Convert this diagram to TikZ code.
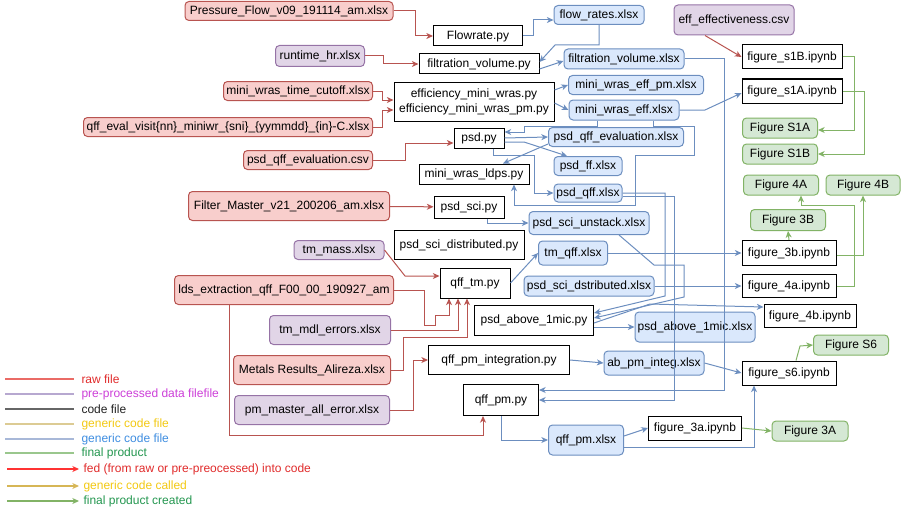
\documentclass[tikz,border=0pt]{standalone}
\usepackage{fontspec}
\setmainfont{Liberation Sans}
\usetikzlibrary{arrows.meta}

\definecolor{rawfill}{HTML}{F8CECC}
\definecolor{rawline}{HTML}{B85450}
\definecolor{prefill}{HTML}{E1D5E7}
\definecolor{preline}{HTML}{9673A6}
\definecolor{genfill}{HTML}{DAE8FC}
\definecolor{genline}{HTML}{6C8EBF}
\definecolor{finfill}{HTML}{D5E8D4}
\definecolor{finline}{HTML}{82B366}
\definecolor{legraw}{HTML}{EA6B66}
\definecolor{legpre}{HTML}{B7A8D0}
\definecolor{legcode}{HTML}{666666}
\definecolor{legtan}{HTML}{DCCB94}
\definecolor{legblue}{HTML}{A8B8D8}
\definecolor{legfin}{HTML}{9AC78D}
\definecolor{arrred}{HTML}{FF3333}
\definecolor{arrtan}{HTML}{D6B656}
\definecolor{txtraw}{HTML}{E02B2B}
\definecolor{txtpre}{HTML}{CC3FD8}
\definecolor{txtcode}{HTML}{222222}
\definecolor{txtyel}{HTML}{F2C811}
\definecolor{txtblue}{HTML}{3E8DE0}
\definecolor{txtfin}{HTML}{23964F}

\begin{document}
\begin{tikzpicture}[x=0.75pt, y=-0.75pt,
    every node/.style={font=\fontsize{9}{11}\selectfont, inner sep=0pt, line width=0.75pt},
    wh/.style 2 args={minimum width=#1*0.75pt, minimum height=#2*0.75pt},
    raw/.style={draw=rawline, fill=rawfill, rounded corners=3pt},
    pre/.style={draw=preline, fill=prefill, rounded corners=3pt},
    code/.style={draw=black, fill=white},
    gen/.style={draw=genline, fill=genfill, rounded corners=3pt},
    final/.style={draw=finline, fill=finfill, rounded corners=3pt},
    fed/.style={draw=rawline, line width=0.75pt, -{Stealth[length=5pt,width=4.5pt,inset=1.5pt]}},
    called/.style={draw=genline, line width=0.75pt, -{Stealth[length=5pt,width=4.5pt,inset=1.5pt]}},
    made/.style={draw=finline, line width=0.75pt, -{Stealth[length=5pt,width=4.5pt,inset=1.5pt]}},
    legtext/.style={anchor=west}]
    \useasboundingbox (0,0) rectangle (902,517);

    % raw files
    \node[raw, wh={208}{19}] (pflow) at (289,11) {Pressure\_Flow\_v09\_191114\_am.xlsx};
    \node[raw, wh={149}{19}] (mwcut) at (298,91) {mini\_wras\_time\_cutoff.xlsx};
    \node[raw, wh={289}{19}] (qffeval) at (228,127) {qff\_eval\_visit\{nn\}\_miniwr\_\{sni\}\_\{yymmdd\}\_\{in\}-C.xlsx};
    \node[raw, wh={129}{19}] (psdcsv) at (308,160) {psd\_qff\_evaluation.csv};
    \node[raw, wh={201}{29}] (filter) at (289,206) {Filter\_Master\_v21\_200206\_am.xlsx};
    \node[raw, wh={219}{29}] (lds) at (284,290) {lds\_extraction\_qff\_F00\_00\_190927\_am};
    \node[raw, wh={157}{29}] (metals) at (312,370) {Metals Results\_Alireza.xlsx};

    % pre-processed files
    \node[pre, wh={89}{21}] (runtime) at (320,56) {runtime\_hr.xlsx};
    \node[pre, wh={120}{30}] (effcsv) at (734,20) {eff\_effectiveness.csv};
    \node[pre, wh={90}{19}] (tmmass) at (339,250) {tm\_mass.xlsx};
    \node[pre, wh={121}{29}] (tmmdl) at (330,330) {tm\_mdl\_errors.xlsx};
    \node[pre, wh={155}{29}] (pmmaster) at (312,410) {pm\_master\_all\_error.xlsx};

    % code
    \node[code, wh={89}{20}] (flowrate) at (478,36) {Flowrate.py};
    \node[code, wh={120}{20}] (filtpy) at (479,64) {filtration\_volume.py};
    \node[code, wh={160}{39}, align=center] (effpy) at (474,102) {efficiency\_mini\_wras.py\\efficiency\_mini\_wras\_pm.py};
    \node[code, wh={50}{20}] (psdpy) at (479,138) {psd.py};
    \node[code, wh={110}{20}] (ldps) at (474,174) {mini\_wras\_ldps.py};
    \node[code, wh={70}{22}] (psdsci) at (469,207) {psd\_sci.py};
    \node[code, wh={130}{29}] (psdscidist) at (459,245) {psd\_sci\_distributed.py};
    \node[code, wh={70}{30}] (qfftm) at (475,283) {qff\_tm.py};
    \node[code, wh={119}{30}] (above) at (534,320) {psd\_above\_1mic.py};
    \node[code, wh={141}{29}] (pminteg) at (499,360) {qff\_pm\_integration.py};
    \node[code, wh={75}{31}] (qffpm) at (501,400) {qff\_pm.py};
    \node[code, wh={100}{24}] (figs1b) at (792,57) {figure\_s1B.ipynb};
    \node[code, wh={100}{24}] (figs1a) at (792,91) {figure\_s1A.ipynb};
    \node[code, wh={94}{25}] (fig3b) at (789,253) {figure\_3b.ipynb};
    \node[code, wh={94}{23}] (fig4a) at (789,286) {figure\_4a.ipynb};
    \node[code, wh={92}{23}] (fig4b) at (810,316) {figure\_4b.ipynb};
    \node[code, wh={94}{24}] (figs6) at (789,373) {figure\_s6.ipynb};
    \node[code, wh={93}{24}] (fig3a) at (695,428) {figure\_3a.ipynb};

    % generic outputs
    \node[gen, wh={90}{19}] (flowx) at (599,15) {flow\_rates.xlsx};
    \node[gen, wh={120}{20}] (filtx) at (624,59) {filtration\_volume.xlsx};
    \node[gen, wh={135}{19}] (effpmx) at (636,85) {mini\_wras\_eff\_pm.xlsx};
    \node[gen, wh={110}{20}] (effx) at (624,110) {mini\_wras\_eff.xlsx};
    \node[gen, wh={135}{19}] (psdevalx) at (616,137) {psd\_qff\_evaluation.xlsx};
    \node[gen, wh={68}{19}] (psdffx) at (588,166) {psd\_ff.xlsx};
    \node[gen, wh={68}{18}] (psdqffx) at (588,193) {psd\_qff.xlsx};
    \node[gen, wh={120}{23}] (unstackx) at (589,223) {psd\_sci\_unstack.xlsx};
    \node[gen, wh={69}{24}] (tmqffx) at (573,253) {tm\_qff.xlsx};
    \node[gen, wh={130}{20}] (distx) at (589,286) {psd\_sci\_dstributed.xlsx};
    \node[gen, wh={120}{30}] (abovex) at (695,327) {psd\_above\_1mic.xlsx};
    \node[gen, wh={100}{24}] (abintegx) at (654,363) {ab\_pm\_integ.xlsx};
    \node[gen, wh={75}{30}] (qffpmx) at (586,440) {qff\_pm.xlsx};

    % final products
    \node[final, wh={75}{20}] (fS1A) at (780,128) {Figure S1A};
    \node[final, wh={75}{20}] (fS1B) at (780,154) {Figure S1B};
    \node[final, wh={75}{20}] (f4A) at (781,185) {Figure 4A};
    \node[final, wh={74}{20}] (f4B) at (863,185) {Figure 4B};
    \node[final, wh={75}{21}] (f3B) at (788,220) {Figure 3B};
    \node[final, wh={75}{20}] (fS6) at (851,345) {Figure S6};
    \node[final, wh={76}{20}] (f3A) at (810,431) {Figure 3A};

    % fed into code
    \draw[fed] (pflow.east) -- (415,11) |- (flowrate);
    \draw[fed] (runtime.east) -- (383,56) -- (383,64) -- (filtpy.west);
    \draw[fed] (mwcut.east) -- ++(9,0) |- ([yshift=1.5pt]effpy.west);
    \draw[fed] (qffeval.east) -- ++(9,0) |- ([yshift=-6pt]effpy.west);
    \draw[fed] (psdcsv.east) -- (405,160) |- ([yshift=-3.75pt]psdpy.west);
    \draw[fed] (filter) -- (psdsci);
    \draw[fed] (tmmass.east) -- (405,276) -- ([yshift=5.25pt]qfftm.west);
    \draw[fed] (lds.east) -| (424,325) -| (435,315) -| ([xshift=-19.5pt]qfftm.south);
    \draw[fed] (tmmdl.east) -| ([xshift=-12.75pt]qfftm.south);
    \draw[fed] (metals.east) -| (403,337) -| ([xshift=-6pt]qfftm.south);
    \draw[fed] (pmmaster.east) -| (413,360) -- (pminteg.west);
    \draw[fed] ([xshift=-41.25pt]lds.south) -- (229,435) -| ([xshift=-13.5pt]qffpm.south);
    \draw[fed] ([xshift=-21.75pt]effcsv.south) -- (figs1b.west);

    % generic code called
    \draw[called] (flowrate.east) -- ++(10,0) |- ([yshift=-3.75pt]flowx.west);
    \draw[called] (flowx.south) |- (555,45) -- ([yshift=1.5pt]filtpy.east);
    \draw[called] ([yshift=-3.75pt]filtpy.east) -- ([yshift=-1.5pt]filtx.west);
    \draw[called] ([yshift=9pt]effpy.east) -- (effpmx.west);
    \draw[called] ([yshift=-0.75pt]effpy.east) -- (effx.west);
    \draw[called] (psdpy.east) -- (psdevalx.west);
    \draw[called] ([xshift=-20.25pt]effx.south) |- (524,126) |- ([yshift=4.5pt]psdpy.east);
    \draw[called] ([yshift=-3pt]psdpy.east) -- (524,142) -- ([xshift=-15.75pt]psdffx.north);
    \draw[called] ([yshift=-5.25pt]psdevalx.west) -- ([xshift=21.75pt]ldps.north);
    \draw[called] ([xshift=10.5pt]psdpy.south) |- (534,155) |- (psdqffx.west);
    \draw[called] ([xshift=21.75pt]effx.south) |- (694,126) |- (635,155) |- (514,205) -| ([xshift=30pt]ldps.south);
    \draw[called] ([xshift=13.5pt]psdsci.south) |- (unstackx.west);
    \draw[called] (qfftm.east) -- (tmqffx.west);
    \draw[called] (psdqffx.east) -| (665,296) -- ([yshift=5.25pt]above.east);
    \draw[called] ([yshift=-2.25pt]psdqffx.east) -| (674,400) -- (qffpm.east);
    \draw[called] (filtx.east) -| (724,390) -- ([yshift=7.5pt]qffpm.east);
    \draw[called] ([xshift=22.5pt]unstackx.south) -- (654,265) -- (684,265) -- (684,297) -- ([yshift=1.5pt]above.east);
    \draw[called] ([yshift=-5.25pt]above.east) -- (abovex.west);
    \draw[called] ([yshift=-2.25pt]above.east) -- (650,304) -- ([yshift=6.75pt]fig4b.west);
    \draw[called] (tmqffx.east) -- (fig3b.west);
    \draw[called] (distx.east) -- (fig4a.west);
    \draw[called] (effx.east) -- (705,110) -- ([yshift=-1.5pt]figs1a.west);
    \draw[called] (pminteg.east) -- (abintegx.west);
    \draw[called] (abintegx.east) -- (figs6.west);
    \draw[called] (qffpm.south) |- (qffpmx.west);
    \draw[called] ([yshift=3pt]qffpmx.east) -- (fig3a.west);
    \draw[called] ([yshift=-5.25pt]qffpmx.east) -| ([xshift=-26.25pt]figs6.south);

    % final product created
    \draw[made] (figs1b.east) -| (854,130) -- ([yshift=-1.5pt]fS1A.east);
    \draw[made] (figs1a.east) -| (864,154) -- (fS1B.east);
    \draw[made] (fig3b.north) -- (f3B.south);
    \draw[made] ([yshift=-1.5pt]fig3b.east) -| (f4B.south);
    \draw[made] (fig4a.east) -| (854,205) -| ([xshift=15pt]f4A.south);
    \draw[made] ([xshift=5.25pt]figs6.north) -- (800,346) -- (fS6.west);
    \draw[made] (fig3a.east) -- (f3A.west);

    % legend
    \foreach \y/\lc/\tc/\txt [count=\i] in {379/legraw/txtraw/raw file,
        394/legpre/txtpre/pre-processed data filefile,
        409/legcode/txtcode/code file,
        424/legtan/txtyel/generic code file,
        439/legblue/txtblue/generic code file,
        453/legfin/txtfin/final product}{
        \coordinate (la\i) at (5,\y);
        \coordinate (lb\i) at (74,\y);
        \node[legtext, text=\tc] (lt\i) at (81,\y) {\txt};
        \draw[\lc, line width=1pt] (la\i) -- (lb\i);
    }
    \foreach \y/\lc/\tc/\txt [count=\i] in {469/arrred/txtraw/fed (from raw or pre-preocessed) into code,
        486/arrtan/txtyel/generic code called,
        501/finline/txtfin/final product created}{
        \coordinate (ma\i) at (7,\y);
        \coordinate (mb\i) at (79,\y);
        \node[legtext, text=\tc] (mt\i) at (83,\y) {\txt};
        \draw[\lc, line width=1pt, -{Stealth[length=5pt,width=4.5pt,inset=1.5pt]}] (ma\i) -- (mb\i);
    }
\end{tikzpicture}
\end{document}
